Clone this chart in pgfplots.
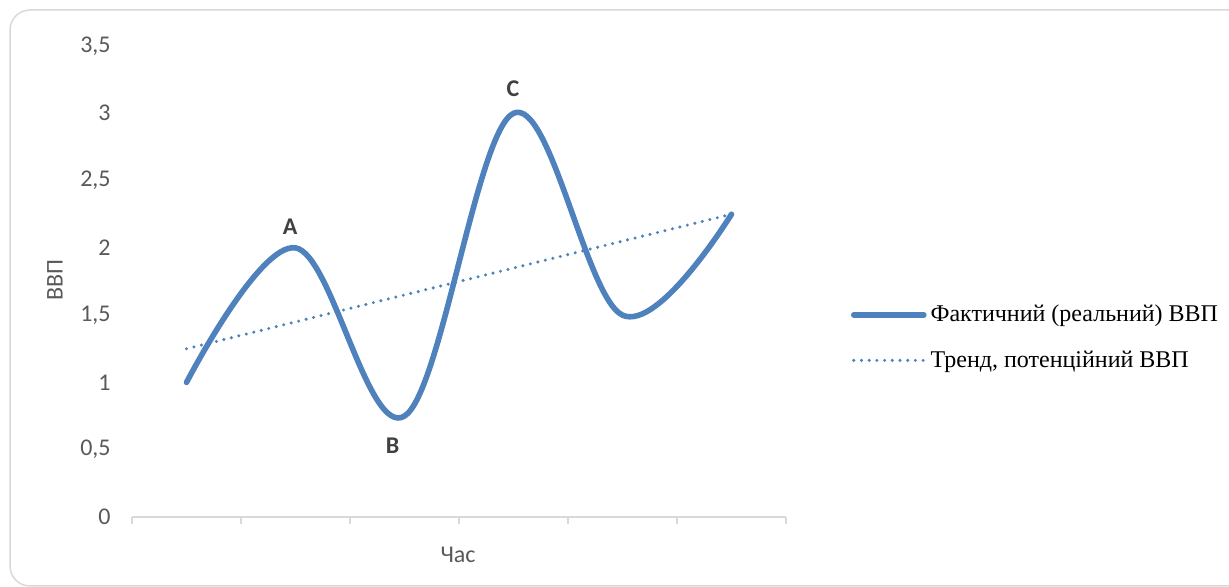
\documentclass[border=0pt]{standalone}
\usepackage{fontspec}
\setmainfont{Carlito}
\newfontfamily\legendfont{Liberation Serif}
\usepackage{pgfplots}
\pgfplotsset{compat=1.18}
\definecolor{gdpblue}{HTML}{4F81BD}
\definecolor{axisgray}{HTML}{D9D9D9}
\definecolor{textgray}{HTML}{595959}
\definecolor{labelgray}{HTML}{404040}

\begin{document}
\begin{tikzpicture}
% 1 px of the reference = 0.5pt
\begin{axis}[
    at={(66pt,35pt)}, anchor=south west,
    scale only axis, width=327pt, height=235.5pt,
    xmin=0.5, xmax=6.5, ymin=0, ymax=3.5,
    xtick={0.5,1.5,...,6.5}, xticklabels={},
    ytick={0,0.5,1,1.5,2,2.5,3,3.5},
    axis x line*=bottom, axis y line*=left,
    x axis line style={axisgray, line width=0.75pt},
    y axis line style={draw=none},
    xtick style={axisgray, line width=0.75pt},
    ytick style={draw=none},
    tick align=outside, major tick length=3.5pt,
    /pgf/number format/use comma,
    /pgf/number format/assume math mode=true,
    yticklabel style={font=\fontsize{12}{14}\selectfont, color=textgray,
                      anchor=east, inner sep=0pt, xshift=-7pt},
    xlabel={Час}, ylabel={ВВП},
    label style={font=\fontsize{12}{14}\selectfont, color=textgray},
    xlabel style={at={(axis description cs:0.4985,-0.0807)}, anchor=center},
    ylabel style={at={(axis description cs:-0.1177,0.503)}, anchor=center},
    legend style={draw=none, fill=none, at={(1.0994,0.381)}, anchor=west,
                  font=\legendfont\fontsize{12}{14}\selectfont,
                  row sep=9pt, inner sep=0pt, outer sep=0pt},
    legend cell align=left,
    legend image code/.code={\draw[#1] (0pt,0pt) -- (35pt,0pt);},
    clip=false,
]
\addplot[gdpblue, line width=2.8pt, line cap=round, smooth, tension=0.6]
    coordinates {(1,1) (2,2) (3,0.75) (4,3) (5,1.5) (6,2.25)};
\addlegendentry{Фактичний (реальний) ВВП}
\addplot[gdpblue, line width=1.7pt, line cap=round, dash pattern=on 0pt off 3.85pt]
    coordinates {(1,1.25) (6,2.25)};
\addlegendentry{Тренд, потенційний ВВП}

\node[font=\bfseries\fontsize{12}{14}\selectfont, labelgray] at (axis cs:1.95,2.16) {A};
\node[font=\bfseries\fontsize{12}{14}\selectfont, labelgray] at (axis cs:2.89,0.53) {B};
\node[font=\bfseries\fontsize{12}{14}\selectfont, labelgray] at (axis cs:3.995,3.18) {C};
\end{axis}
\draw[axisgray, line width=0.75pt, rounded corners=10pt] (5pt,288.5pt) rectangle (630pt,0.5pt);
\pgfresetboundingbox
\path[use as bounding box] (0pt,0pt) rectangle (614.5pt,293.5pt);
\end{tikzpicture}
\end{document}
